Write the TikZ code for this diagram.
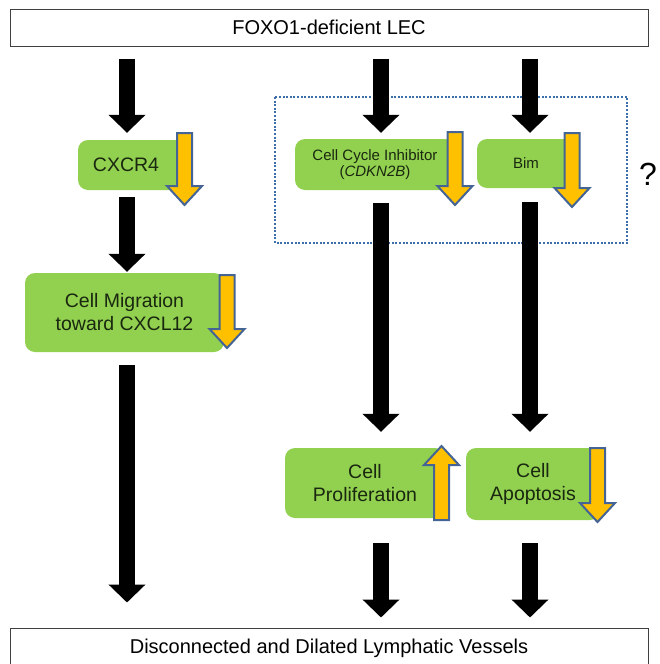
\documentclass[tikz,border=0pt]{standalone}
\usepackage{fontspec}
\setmainfont{Liberation Sans}
\usetikzlibrary{arrows.meta}
\definecolor{boxgreen}{HTML}{92D050}
\definecolor{downorange}{HTML}{FFC000}
\definecolor{arrblue}{RGB}{68,100,150}
\definecolor{dotblue}{RGB}{60,110,170}
\definecolor{txtgreen}{RGB}{25,40,15}
\begin{document}
\begin{tikzpicture}[x=1pt,y=-1pt,>={Triangle[width=36pt,length=18pt]},
	outbox/.style={draw=black!75,line width=1pt,fill=white,minimum width=638pt,inner sep=0pt,font=\fontsize{20}{24}\selectfont},
	gbox/.style={fill=boxgreen,rounded corners=10pt,inner sep=0pt,align=center,text=txtgreen,font=\fontsize{19.5}{23}\selectfont},
	sbox/.style={gbox,font=\fontsize{15}{16}\selectfont},
	blk/.style={->,line width=16pt},
	yarr/.style={fill=downorange,draw=arrblue,line width=2pt,line join=miter}]
	\useasboundingbox (0,0) rectangle (659,664);
	\def\yarrow#1#2#3{% x, tail, tip
		\filldraw[yarr] ({#1-7.5},#2) -- ({#1+7.5},#2) -- ({#1+7.5},{#3+19*sign(#2-#3)}) -- ({#1+17.5},{#3+19*sign(#2-#3)})
		-- (#1,#3) -- ({#1-17.5},{#3+19*sign(#2-#3)}) -- ({#1-7.5},{#3+19*sign(#2-#3)}) -- cycle;}
	\path (127,0) coordinate (cL) (381,0) coordinate (cM) (530,0) coordinate (cR);
	% outer boxes
	\node[outbox,minimum height=37pt] (lec) at (329,27.5) {FOXO1-deficient LEC};
	\node[outbox,minimum height=40pt] (vess) at (329,648) {Disconnected and Dilated Lymphatic Vessels};
	% group
	\draw[dotblue,line width=2pt,dash pattern=on 2pt off 1.6pt] (275,97) rectangle (627,243);
	\node[font=\fontsize{32}{36}\selectfont] (qm) at (648,174) {?};
	% green boxes
	\node[gbox,minimum width=108pt,minimum height=50pt] (cxcr) at (132,165) {CXCR4\hspace*{12pt}};
	\node[gbox,minimum width=199pt,minimum height=79pt] (mig) at (124.5,312.5) {Cell Migration\\toward CXCL12};
	\node[sbox,minimum width=160pt,minimum height=51pt] (cci) at (375,164.5) {Cell Cycle Inhibitor\\(\textit{CDKN2B})};
	\node[sbox,minimum width=98pt,minimum height=49pt] (bim) at (526,163.5) {Bim};
	\node[gbox,minimum width=160pt,minimum height=70pt] (prol) at (365,483) {Cell\\Proliferation};
	\node[gbox,minimum width=134pt,minimum height=72pt] (apop) at (533,484) {Cell\\Apoptosis};
	% up / down
	\yarrow{184.5}{133}{205}
	\yarrow{227}{275}{348}
	\yarrow{455}{132}{205}
	\yarrow{572}{133}{207}
	\yarrow{441.5}{520}{446}
	\yarrow{597.5}{448}{522}
	% black arrows
	\draw[blk,shorten <=12pt,shorten >=7pt] (lec.south -| cL) -- (cxcr.north -| cL);
	\draw[blk,shorten <=7pt,shorten >=1pt] (cxcr.south -| cL) -- (mig.north -| cL);
	\draw[blk,shorten <=13pt,shorten >=25pt] (mig.south -| cL) -- (vess.north -| cL);
	\draw[blk,shorten <=12pt,shorten >=6pt] (lec.south -| cM) -- (cci.north -| cM);
	\draw[blk,shorten <=13pt,shorten >=16pt] (cci.south -| cM) -- (prol.north -| cM);
	\draw[blk,shorten <=25pt,shorten >=10pt] (prol.south -| cM) -- (vess.north -| cM);
	\draw[blk,shorten <=12pt,shorten >=6pt] (lec.south -| cR) -- (bim.north -| cR);
	\draw[blk,shorten <=14pt,shorten >=16pt] (bim.south -| cR) -- (apop.north -| cR);
	\draw[blk,shorten <=23pt,shorten >=10pt] (apop.south -| cR) -- (vess.north -| cR);
\end{tikzpicture}
\end{document}
